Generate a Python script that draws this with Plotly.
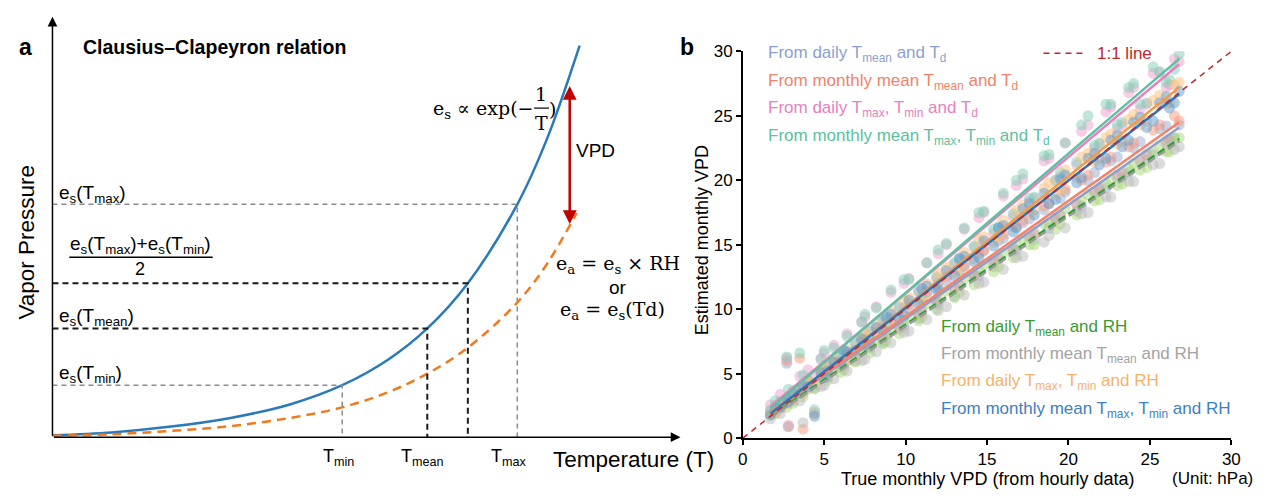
import plotly.graph_objects as go

# ---------------- Panel a: schematic Clausius-Clapeyron curves ----------------
# temperature positions (arbitrary schematic units) and curve heights
T_CURVE = [0, 60, 120, 180, 240, 293, 340, 379, 420, 470, 500, 533]
ES_CURVE = [2, 5, 11, 20, 34, 54, 81, 113, 160, 242, 310, 407]
T_EA = [0, 60, 120, 180, 240, 293, 340, 379, 420, 470, 500, 530]
EA_CURVE = [1.5, 3, 6.5, 11.5, 20, 31, 47, 66, 93, 140, 180, 233]

MARK_NAMES = ["Tmin", "Tmean", "Thalf", "Tmax"]
MARK_T = [293, 379, 420, 470]

# ---------------- Panel b: estimated vs true monthly VPD (hPa) ----------------
X_TRUE = [
    1.7, 2.0, 2.3, 2.7, 2.8, 3.1, 3.5, 3.7, 4.0, 4.4,
    4.8, 5.2, 5.6, 6.0, 6.4, 6.9, 7.3, 7.8, 8.2, 8.6,
    9.1, 9.6, 10.2, 10.8, 11.3, 11.9, 12.5, 13.0, 13.6, 14.2,
    14.8, 15.4, 16.0, 16.6, 17.2, 17.9, 18.5, 19.2, 19.8, 20.5,
    21.2, 21.9, 22.6, 23.3, 24.0, 24.8, 25.6, 26.2, 26.8,
    5.0, 6.2, 7.5, 8.8, 9.9, 11.0, 12.0, 13.3, 14.5, 15.7,
    16.8, 17.6, 18.8, 19.5, 20.8, 21.6, 22.3, 23.0, 23.7, 24.4,
    25.2, 26.0, 26.5]

Y_DAILY_TMEAN_TD = [
    2.1, 2.0, 2.8, 5.8, 3.1, 2.9, 3.9, 3.5, 4.5, 3.9,
    5.0, 4.7, 6.0, 5.5, 6.5, 6.0, 7.6, 7.0, 8.2, 7.4,
    9.3, 8.5, 10.1, 9.3, 11.3, 10.5, 12.2, 11.0, 13.3, 12.6,
    14.5, 13.3, 15.5, 14.5, 16.7, 15.4, 17.7, 16.9, 19.1, 17.6,
    20.0, 19.2, 21.5, 20.2, 22.5, 21.6, 24.0, 23.1, 24.3,
    5.3, 5.6, 7.6, 8.9, 8.7, 10.9, 10.4, 13.0, 12.6, 15.3,
    14.6, 17.0, 16.3, 18.6, 18.0, 20.6, 19.4, 21.8, 20.6, 23.0,
    22.0, 24.2, 23.3]
Y_MONTHLY_TMEAN_TD = [
    1.8, 2.5, 2.3, 6.0, 0.9, 3.5, 6.2, 0.7, 4.3, 1.9,
    5.2, 4.9, 5.9, 5.6, 6.6, 6.3, 7.5, 7.1, 8.5, 7.8,
    9.2, 8.6, 10.4, 9.6, 11.3, 10.7, 12.5, 11.6, 13.4, 12.6,
    14.6, 13.7, 15.8, 14.6, 16.9, 15.8, 18.0, 17.0, 19.3, 18.1,
    20.4, 19.3, 21.8, 20.5, 22.9, 22.0, 24.3, 23.2, 24.6,
    5.5, 5.7, 7.8, 8.0, 10.1, 9.8, 12.0, 11.8, 14.3, 13.9,
    16.4, 15.6, 18.2, 17.3, 20.0, 19.1, 21.4, 20.4, 22.6, 21.6,
    23.9, 23.0, 25.0]
Y_DAILY_TMAXMIN_TD = [
    2.6, 2.5, 3.4, 6.2, 1.0, 3.7, 4.8, 4.2, 5.3, 4.9,
    6.2, 5.7, 7.2, 6.6, 8.1, 7.4, 9.0, 8.3, 10.2, 9.1,
    11.3, 10.1, 12.4, 11.3, 13.6, 12.4, 15.0, 13.5, 16.2, 14.8,
    17.5, 15.9, 18.8, 17.2, 20.1, 18.6, 21.5, 20.0, 22.9, 21.2,
    24.3, 22.8, 25.7, 24.3, 27.2, 25.9, 28.4, 27.4, 29.2,
    6.6, 6.8, 9.4, 9.3, 12.0, 11.6, 14.3, 13.9, 17.1, 16.3,
    19.6, 18.4, 21.7, 20.3, 23.8, 22.5, 25.3, 24.0, 26.8, 25.5,
    28.3, 27.2, 29.4]
Y_MONTHLY_TMAXMIN_TD = [
    2.2, 2.9, 2.7, 6.3, 3.8, 3.5, 6.6, 4.9, 4.5, 2.2,
    6.1, 5.7, 7.0, 6.5, 7.9, 7.4, 9.0, 8.3, 10.1, 9.2,
    11.5, 10.2, 12.3, 11.4, 13.6, 12.5, 15.1, 13.6, 16.3, 14.9,
    17.6, 16.2, 19.0, 17.4, 20.5, 18.7, 21.9, 20.0, 22.9, 21.4,
    25.0, 22.9, 25.9, 24.5, 27.5, 26.0, 28.4, 27.8, 29.8,
    6.8, 6.5, 9.6, 9.0, 12.3, 10.9, 14.6, 14.0, 17.5, 16.4,
    20.0, 18.6, 22.0, 20.6, 24.3, 22.7, 25.9, 24.3, 27.2, 25.9,
    28.8, 27.6, 28.6]
Y_DAILY_TMEAN_RH = [
    1.8, 1.9, 2.4, 2.4, 2.8, 2.7, 3.5, 3.2, 3.9, 3.8,
    4.6, 4.5, 5.3, 5.1, 6.0, 5.9, 6.8, 6.6, 7.6, 7.3,
    8.4, 8.1, 9.4, 9.1, 10.4, 10.0, 11.4, 10.9, 12.4, 11.9,
    13.4, 12.9, 14.4, 14.0, 15.5, 15.0, 16.6, 16.2, 17.8, 17.3,
    18.9, 18.5, 20.1, 19.7, 21.3, 21.0, 22.7, 22.2, 23.3,
    4.9, 5.3, 7.0, 7.5, 9.1, 9.4, 10.9, 11.3, 13.0, 13.3,
    15.0, 15.0, 16.7, 16.6, 18.4, 18.4, 19.7, 19.6, 20.9, 20.8,
    22.2, 22.2, 23.2]
Y_MONTHLY_TMEAN_RH = [
    1.5, 2.0, 1.9, 2.7, 0.9, 3.0, 2.9, 1.2, 3.8, 2.0,
    4.0, 4.8, 4.6, 5.6, 5.2, 6.4, 6.0, 7.2, 6.7, 7.8,
    7.4, 8.7, 8.3, 9.8, 9.2, 10.7, 10.2, 11.7, 11.1, 12.7,
    12.1, 13.8, 13.1, 14.8, 14.1, 16.0, 15.2, 17.1, 16.3, 18.2,
    17.5, 19.4, 18.7, 20.6, 19.9, 21.9, 21.3, 23.1, 22.6,
    4.1, 5.8, 6.1, 8.1, 8.2, 9.9, 9.9, 11.9, 12.0, 13.9,
    14.0, 15.6, 15.7, 17.2, 17.4, 19.0, 18.7, 20.2, 19.9, 21.4,
    21.2, 22.8, 22.4]
Y_DAILY_TMAXMIN_RH = [
    1.9, 2.0, 2.6, 2.7, 3.1, 3.0, 3.9, 3.6, 4.4, 4.3,
    5.3, 5.1, 6.1, 5.9, 6.9, 6.8, 7.9, 7.6, 8.8, 8.4,
    9.8, 9.4, 10.9, 10.6, 12.0, 11.7, 13.3, 12.8, 14.4, 13.9,
    15.6, 15.2, 16.9, 16.4, 18.1, 17.7, 19.4, 18.9, 20.8, 20.2,
    22.1, 21.7, 23.6, 23.0, 25.1, 24.6, 26.6, 26.0, 27.6,
    5.6, 6.0, 8.2, 8.6, 10.7, 10.7, 12.8, 13.1, 15.4, 15.5,
    17.7, 17.4, 19.8, 19.3, 21.8, 21.4, 23.3, 22.8, 24.7, 24.3,
    26.2, 25.9, 27.4]
Y_MONTHLY_TMAXMIN_RH = [
    1.8, 2.3, 2.4, 3.0, 2.8, 3.4, 3.5, 4.0, 4.0, 1.7,
    5.1, 5.2, 5.9, 5.9, 6.7, 6.8, 7.7, 7.6, 8.6, 8.4,
    9.6, 9.3, 10.7, 10.4, 11.8, 11.5, 13.0, 12.6, 14.1, 13.7,
    15.3, 14.9, 16.5, 16.0, 17.8, 17.3, 19.0, 18.5, 20.4, 19.8,
    21.7, 21.2, 23.1, 22.6, 24.5, 24.1, 26.0, 25.6, 26.9,
    4.7, 6.8, 7.2, 9.4, 9.5, 11.6, 11.6, 13.9, 14.0, 16.3,
    16.3, 18.2, 18.2, 20.1, 20.2, 22.1, 21.7, 23.5, 23.1, 24.9,
    24.6, 26.5, 26.0]

SERIES_Y = [Y_DAILY_TMEAN_TD, Y_MONTHLY_TMEAN_TD, Y_DAILY_TMAXMIN_TD,
            Y_MONTHLY_TMAXMIN_TD, Y_DAILY_TMEAN_RH, Y_MONTHLY_TMEAN_RH,
            Y_DAILY_TMAXMIN_RH, Y_MONTHLY_TMAXMIN_RH]

# linear fits (slope, intercept) of each estimate against the true VPD
FIT_SLOPE = [0.882, 0.896, 1.058, 1.080, 0.857, 0.853, 1.012, 0.988]
FIT_INTERCEPT = [0.45, 0.48, 0.65, 0.47, 0.24, 0.15, 0.08, 0.22]
FIT_X = [1.7, 26.8]
ONE_TO_ONE = [0, 30]

LEGEND_TOP = [
    "From daily T<sub>mean</sub> and T<sub>d</sub>",
    "From monthly mean T<sub>mean</sub> and T<sub>d</sub>",
    "From daily T<sub>max</sub>, T<sub>min</sub> and T<sub>d</sub>",
    "From monthly mean T<sub>max</sub>, T<sub>min</sub> and T<sub>d</sub>",
]
LEGEND_BOTTOM = [
    "From daily T<sub>mean</sub> and RH",
    "From monthly mean T<sub>mean</sub> and RH",
    "From daily T<sub>max</sub>, T<sub>min</sub> and RH",
    "From monthly mean T<sub>max</sub>, T<sub>min</sub> and RH",
]
X_TICKS = [0, 5, 10, 15, 20, 25, 30]
Y_TICKS = [0, 5, 10, 15, 20, 25, 30]

# styling
POINT_COLORS = ["#9aa9d4", "#f79a7a", "#ee9fd0", "#7fcfb4",
                "#a9d878", "#b9b9b9", "#fcbf7a", "#5f9bd0"]
LINE_COLORS = ["#8d9fd0", "#f4836b", "#ea7fc0", "#5fc0a0",
               "#2f9e2f", "#9a9a9a", "#f59a45", "#2e74b8"]
LINE_DASH = ["solid", "solid", "solid", "solid",
             "8px,4px", "8px,4px", "solid", "solid"]
TEXT_COLORS = ["#8c9fcf", "#f0836a", "#e680c2", "#5dbf9f",
               "#3a9a2f", "#a3a3a3", "#f6b26b", "#3d7fc0"]

SANS = "Liberation Sans, Arial, sans-serif"
SERIF = "DejaVu Serif, Liberation Serif, serif"

W, H = 1272, 503
OX, OY = 48, 445  # page position of the schematic origin


def ax(px):
    return px - OX


def ay(py):
    return OY - py


fig = go.Figure()

# ---- panel a curves ----
fig.add_trace(go.Scatter(x=T_CURVE, y=ES_CURVE, mode="lines",
                         line=dict(color="#2a7ab9", width=2.5, shape="spline"),
                         xaxis="x", yaxis="y", hoverinfo="skip"))
fig.add_trace(go.Scatter(x=T_EA, y=EA_CURVE, mode="lines",
                         line=dict(color="#f07a1f", width=2.5, shape="spline",
                                   dash="9px,6px"),
                         xaxis="x", yaxis="y", hoverinfo="skip"))

# guide lines from the curve to both axes
for name, t in zip(MARK_NAMES, MARK_T):
    e = ES_CURVE[T_CURVE.index(t)]
    grey = name in ("Tmin", "Tmax")
    col = "#8c8c8c" if grey else "#1a1a1a"
    wid = 1.5 if grey else 2
    dash = "5px,4px" if grey else "6px,4px"
    fig.add_trace(go.Scatter(x=[0, t, t], y=[e, e, 0], mode="lines",
                             line=dict(color=col, width=wid, dash=dash),
                             xaxis="x", yaxis="y", hoverinfo="skip"))

# ---- panel b scatter & fits ----
for ys, c in zip(SERIES_Y, POINT_COLORS):
    fig.add_trace(go.Scatter(x=X_TRUE, y=ys, mode="markers",
                             marker=dict(size=11, color=c, opacity=0.5,
                                         line=dict(width=0)),
                             xaxis="x2", yaxis="y2", hoverinfo="skip"))
for s, b, c, d in zip(FIT_SLOPE, FIT_INTERCEPT, LINE_COLORS, LINE_DASH):
    fig.add_trace(go.Scatter(x=FIT_X, y=[s * FIT_X[0] + b, s * FIT_X[1] + b],
                             mode="lines", line=dict(color=c, width=2.5, dash=d),
                             xaxis="x2", yaxis="y2", hoverinfo="skip"))
fig.add_trace(go.Scatter(x=ONE_TO_ONE, y=ONE_TO_ONE, mode="lines",
                         line=dict(color="#c0282d", width=1.5, dash="6px,5px"),
                         xaxis="x2", yaxis="y2", hoverinfo="skip"))

ann = []
shapes = []


def text(px, py, s, size=16, color="black", family=SANS, xanchor="center",
         yanchor="middle", angle=0):
    ann.append(dict(x=ax(px), y=ay(py), xref="x", yref="y", text=s,
                    showarrow=False, xanchor=xanchor, yanchor=yanchor,
                    textangle=angle, font=dict(size=size, color=color,
                                               family=family)))


def arrow(px0, py0, px1, py1, color="black", width=1.5, size=1.0, side="end"):
    ann.append(dict(x=ax(px1), y=ay(py1), ax=ax(px0), ay=ay(py0), xref="x",
                    yref="y", axref="x", ayref="y", text="", showarrow=True,
                    arrowhead=2, arrowsize=size, arrowwidth=width,
                    arrowcolor=color, arrowside=side, standoff=0,
                    startstandoff=0))


def hline(px0, px1, py, color="black", width=1.5, dash="solid"):
    shapes.append(dict(type="line", xref="x", yref="y", x0=ax(px0), x1=ax(px1),
                       y0=ay(py), y1=ay(py),
                       line=dict(color=color, width=width, dash=dash)))


# panel a axes with arrows
arrow(48, 445, 48, 8, width=1.5, size=1.3)
arrow(48, 445, 683, 445, width=1.5, size=1.3)

text(21, 40, "<b>a</b>", size=23)
text(77, 40, "<b>Clausius–Clapeyron relation</b>", size=19.5, xanchor="left")
text(22, 242, "Vapor Pressure", size=22.5, angle=-90)
text(635, 468, "Temperature (T)", size=22.5)
text(337, 466, "T<sub>min</sub>", size=18)
text(422, 466, "T<sub>mean</sub>", size=18)
text(509, 466, "T<sub>max</sub>", size=18)

text(53, 192, "e<sub>s</sub>(T<sub>max</sub>)", size=19, xanchor="left")
text(64, 245, "e<sub>s</sub>(T<sub>max</sub>)+e<sub>s</sub>(T<sub>min</sub>)",
     size=19, xanchor="left")
hline(65, 210, 258, width=1.5)
text(137, 270, "2", size=18)
text(53, 320, "e<sub>s</sub>(T<sub>mean</sub>)", size=19, xanchor="left")
text(53, 379, "e<sub>s</sub>(T<sub>min</sub>)", size=19, xanchor="left")

# saturation vapour pressure formula
text(536, 104, "e<sub>s</sub> ∝ exp(−", size=19, family=SERIF, xanchor="right")
text(542, 88, "1", size=19, family=SERIF)
hline(535, 550, 103, width=1.2)
text(542, 118, "T", size=19, family=SERIF)
text(554, 104, ")", size=19, family=SERIF)

# VPD arrow between e_s and e_a
arrow(571, 225, 571, 80, color="#c00000", width=2.5, size=1.1,
      side="end+start")
text(597, 147, "VPD", size=19)

text(620, 266, "e<sub>a</sub> = e<sub>s</sub> × RH", size=19, family=SERIF)
text(620, 289, "or", size=19)
text(614, 313, "e<sub>a</sub> = e<sub>s</sub>(Td)", size=19, family=SERIF)

# panel b labels
text(690, 40, "<b>b</b>", size=23)
for i, s in enumerate(LEGEND_TOP):
    text(769, 47 + i * 28.5, s, size=17, color=TEXT_COLORS[i], xanchor="left")
for i, s in enumerate(LEGEND_BOTTOM):
    text(944, 331 + i * 28.5, s, size=17, color=TEXT_COLORS[4 + i],
         xanchor="left")
hline(1050, 1093, 46, color="#c0282d", width=1.5, dash="6px,5px")
text(1102, 46, "1:1 line", size=17, color="#c0282d", xanchor="left")
text(705, 240, "Estimated monthly VPD", size=18, angle=-90)
text(993, 488, "True monthly VPD (from hourly data)", size=18)
text(1221, 488, "(Unit: hPa)", size=17)

axis_common = dict(showgrid=False, zeroline=False, showline=True,
                   linecolor="black", linewidth=1.5, ticks="outside",
                   ticklen=5, tickwidth=1.5, tickcolor="black",
                   tickfont=dict(size=17, color="black", family=SANS),
                   fixedrange=True)

fig.update_layout(
    width=W, height=H, margin=dict(l=0, r=0, t=0, b=0),
    paper_bgcolor="white", plot_bgcolor="rgba(0,0,0,0)",
    showlegend=False,
    xaxis=dict(domain=[0, 1], range=[-OX, W - OX], visible=False,
               fixedrange=True),
    yaxis=dict(domain=[0, 1], range=[-(H - OY), OY], visible=False,
               fixedrange=True),
    xaxis2=dict(domain=[746 / W, 1240 / W], range=[0, 30], anchor="y2",
                tickvals=X_TICKS, **axis_common),
    yaxis2=dict(domain=[1 - 446 / H, 1 - 44 / H], range=[0, 30], anchor="x2",
                tickvals=Y_TICKS, **axis_common),
    annotations=ann, shapes=shapes,
)

fig.write_html("out.html")
